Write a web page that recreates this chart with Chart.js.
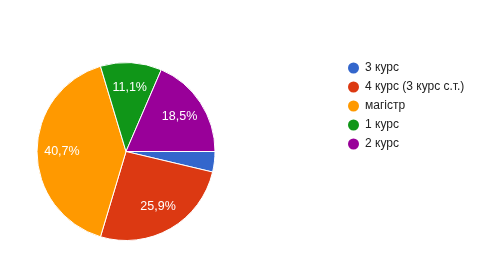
<!DOCTYPE html>
<html>
<head>
<meta charset="utf-8">
<script src="https://cdn.jsdelivr.net/npm/chart.js@4.4.0/dist/chart.umd.min.js"></script>
<style>
  html, body { margin: 0; padding: 0; background: #fff; }
  #wrap { width: 477px; height: 273px; }
</style>
</head>
<body>
<div id="wrap"><canvas id="pie" width="477" height="273"></canvas></div>
<script>
// answers of the form, 27 in total
var labels = ['3 курс', '4 курс (3 курс с.т.)', 'магістр', '1 курс', '2 курс'];
var counts = [1, 7, 11, 3, 5];
var colors = ['#3366cc', '#dc3912', '#ff9900', '#109618', '#990099'];

var font = '"Liberation Sans", Arial, sans-serif';

// percent text inside slices, google style
var sliceLabels = {
    id: 'sliceLabels',
    afterDatasetsDraw: function (chart) {
        var ctx = chart.ctx;
        var meta = chart.getDatasetMeta(0);
        var total = counts.reduce(function (a, b) { return a + b; }, 0);
        ctx.save();
        ctx.fillStyle = '#fff';
        ctx.font = '12.5px ' + font;
        ctx.textAlign = 'center';
        ctx.textBaseline = 'middle';
        meta.data.forEach(function (arc, i) {
            var pct = counts[i] / total * 100;
            if (pct < 5) return;
            var mid = (arc.startAngle + arc.endAngle) / 2;
            var r = arc.outerRadius * 0.72;
            var txt = pct.toFixed(1).replace('.', ',') + '%';
            ctx.fillText(txt, arc.x + Math.cos(mid) * r, arc.y + Math.sin(mid) * r);
        });
        ctx.restore();
    }
};

// legend on the right
var sideLegend = {
    id: 'sideLegend',
    afterDraw: function (chart) {
        var ctx = chart.ctx;
        ctx.save();
        ctx.font = '12px ' + font;
        ctx.textBaseline = 'middle';
        for (var i = 0; i < labels.length; i++) {
            var y = 68 + i * 19;
            ctx.fillStyle = colors[i];
            ctx.beginPath();
            ctx.arc(353.5, y, 5.5, 0, Math.PI * 2);
            ctx.fill();
            ctx.fillStyle = '#222';
            ctx.fillText(labels[i], 365, y);
        }
        ctx.restore();
    }
};

new Chart(document.getElementById('pie'), {
    type: 'pie',
    data: {
        labels: labels,
        datasets: [{
            data: counts,
            backgroundColor: colors,
            borderColor: '#fff',
            borderWidth: 1
        }]
    },
    options: {
        responsive: false,
        animation: false,
        rotation: 90,
        layout: { padding: { left: 36, right: 261, top: 62, bottom: 32 } },
        plugins: {
            legend: { display: false },
            tooltip: { enabled: false }
        }
    },
    plugins: [sliceLabels, sideLegend]
});
</script>
</body>
</html>
